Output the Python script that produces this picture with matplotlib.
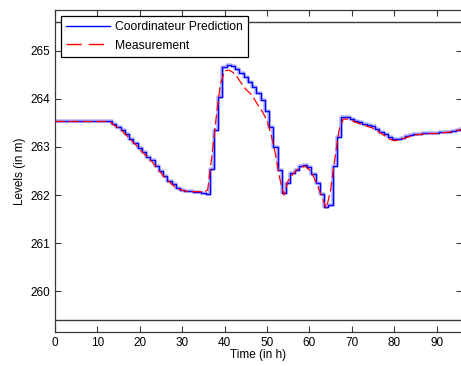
import matplotlib
matplotlib.use("Agg")
import matplotlib.pyplot as plt
from matplotlib.lines import Line2D

plt.rcParams['font.family'] = ['Liberation Sans', 'DejaVu Sans']

# Hourly time axis
hours = list(range(0, 97))

# Coordinator prediction of the level (m), one value per hour
prediction = [
    263.53, 263.53, 263.53, 263.53, 263.53, 263.53, 263.53, 263.53, 263.53, 263.53,
    263.53, 263.53, 263.53, 263.53, 263.47, 263.42, 263.35, 263.26, 263.17, 263.08,
    262.98, 262.89, 262.80, 262.72, 262.61, 262.50, 262.40, 262.30, 262.22, 262.15,
    262.11, 262.09, 262.08, 262.07, 262.06, 262.04, 262.02, 262.55, 263.35, 264.05,
    264.67, 264.70, 264.69, 264.63, 264.54, 264.45, 264.36, 264.24, 264.12, 263.97,
    263.75, 263.42, 263.00, 262.52, 262.05, 262.25, 262.45, 262.53, 262.61, 262.63,
    262.58, 262.43, 262.25, 262.02, 261.76, 261.80, 262.60, 263.20, 263.63, 263.63,
    263.58, 263.54, 263.51, 263.48, 263.45, 263.43, 263.38, 263.32, 263.26, 263.20,
    263.17, 263.17, 263.19, 263.22, 263.25, 263.27, 263.28, 263.29, 263.30, 263.30,
    263.30, 263.31, 263.31, 263.32, 263.34, 263.36, 263.37,
]

# Measured level (m), one value per hour
measurement = [
    263.53, 263.53, 263.53, 263.53, 263.53, 263.53, 263.53, 263.53, 263.53, 263.53,
    263.53, 263.53, 263.53, 263.52, 263.45, 263.39, 263.32, 263.23, 263.14, 263.05,
    262.95, 262.86, 262.77, 262.68, 262.57, 262.46, 262.36, 262.27, 262.19, 262.13,
    262.10, 262.08, 262.07, 262.07, 262.07, 262.06, 262.10, 262.80, 263.60, 264.30,
    264.58, 264.60, 264.55, 264.45, 264.32, 264.20, 264.12, 264.00, 263.85, 263.72,
    263.55, 263.25, 262.85, 262.35, 262.00, 262.30, 262.42, 262.52, 262.58, 262.60,
    262.52, 262.38, 262.18, 261.95, 261.72, 262.10, 262.75, 263.35, 263.58, 263.58,
    263.55, 263.51, 263.48, 263.45, 263.42, 263.39, 263.34, 263.28, 263.22, 263.16,
    263.13, 263.14, 263.17, 263.20, 263.23, 263.25, 263.26, 263.27, 263.28, 263.28,
    263.28, 263.29, 263.30, 263.31, 263.33, 263.35, 263.36,
]

# Operating bounds on the level (m)
upper_bound = 265.6
lower_bound = 259.4

x_ticks = [0, 10, 20, 30, 40, 50, 60, 70, 80, 90]
y_ticks = [260, 261, 262, 263, 264, 265]

fig = plt.figure(figsize=(4.61, 3.66), dpi=100)
ax = fig.add_axes([55 / 461, 1 - 332 / 366, 407 / 461, 322 / 366])

edge = '#3a3a3a'

# Bounds
ax.axhline(upper_bound, color=edge, lw=1.0, zorder=1)
ax.axhline(lower_bound, color=edge, lw=1.0, zorder=1)

# Prediction: staircase with a soft halo
ax.step(hours, prediction, where='mid', color='#8080ff', lw=2.6, alpha=0.55, zorder=2)
ax.step(hours, prediction, where='mid', color='#0000ff', lw=1.0, zorder=3)

# Measurement: dashed red
ax.plot(hours, measurement, color='#ff0000', lw=0.9, dashes=(8, 3), zorder=4)

ax.set_xlim(0, 96)
ax.set_ylim(lower_bound - 0.25, upper_bound + 0.25)
ax.set_xticks(x_ticks)
ax.set_yticks(y_ticks)
ax.tick_params(direction='in', length=4, width=0.8, colors=edge, labelsize=8.5,
               labelcolor='black', top=True, right=True)
for s in ax.spines.values():
    s.set_color(edge)
    s.set_linewidth(0.9)

ax.set_xlabel('Time (in h)', fontsize=8.5, labelpad=0)
ax.set_ylabel('Levels (in m)', fontsize=8.5, labelpad=3)

handles = [
    Line2D([], [], color='#0000ff', lw=1.0),
    Line2D([], [], color='#ff0000', lw=1.0, dashes=(11, 5)),
]
leg = ax.legend(handles, ['Coordinateur Prediction', 'Measurement'],
                loc='upper left', fontsize=8.7, frameon=True, fancybox=False,
                edgecolor='black', framealpha=1, borderpad=0.45, labelspacing=0.5,
                handlelength=3.6, handletextpad=0.4, borderaxespad=0.5)
leg.get_frame().set_linewidth(0.9)

fig.savefig('out.png', dpi=100)
